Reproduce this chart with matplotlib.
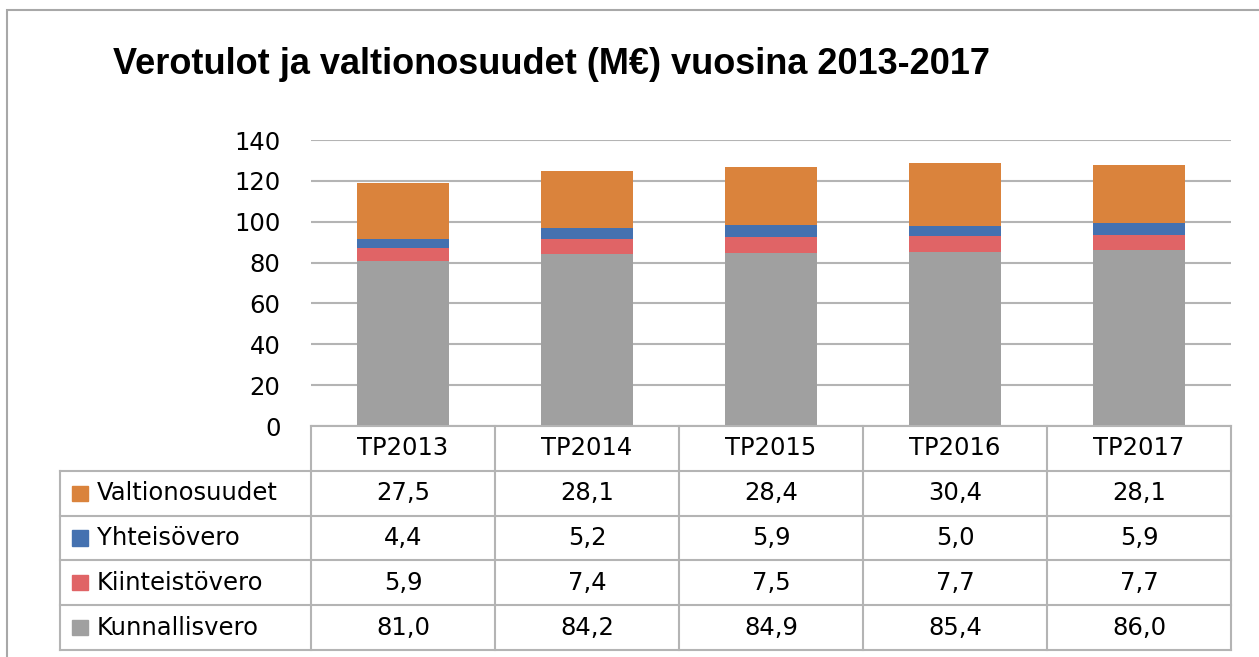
import matplotlib.pyplot as plt
from matplotlib.patches import Rectangle
import numpy as np

# Data
years = ['TP2013', 'TP2014', 'TP2015', 'TP2016', 'TP2017']
kunnallisvero = [81.0, 84.2, 84.9, 85.4, 86.0]
kiinteistovero = [5.9, 7.4, 7.5, 7.7, 7.7]
yhteisovero = [4.4, 5.2, 5.9, 5.0, 5.9]
valtionosuudet = [27.5, 28.1, 28.4, 30.4, 28.1]

# stack order bottom -> top
series_names = ['Kunnallisvero', 'Kiinteistövero', 'Yhteisövero', 'Valtionosuudet']
series_vals = [kunnallisvero, kiinteistovero, yhteisovero, valtionosuudet]
colors = ['#a0a0a0', '#e06466', '#4471b0', '#da833c']

W, H = 1259, 657
fig = plt.figure(figsize=(W / 100, H / 100), dpi=100)
font = 'DejaVu Sans'
fs = 17.5
grid_c = '#b4b4b4'

# outer frame (runs off the right/bottom edge)
fig.patches.append(Rectangle((7 / W, -0.1), 1.2, 1 - 10 / H + 0.1, transform=fig.transFigure,
                             fill=False, edgecolor='#a8a8a8', lw=1.5))

fig.text(113 / W, 1 - 65 / H, 'Verotulot ja valtionosuudet (M€) vuosina 2013-2017',
         fontsize=26, fontweight='bold', family='Liberation Sans', va='center', ha='left')

# bar axes
x0, x1 = 311, 1231
y_top, y_bot = 140, 426
ax = fig.add_axes([x0 / W, 1 - y_bot / H, (x1 - x0) / W, (y_bot - y_top) / H])
x = np.arange(len(years))
bottom = np.zeros(len(years))
for vals, c in zip(series_vals, colors):
    ax.bar(x, vals, width=0.5, bottom=bottom, color=c, zorder=3)
    bottom += np.array(vals)
ax.set_xlim(-0.5, len(years) - 0.5)
ax.set_ylim(0, 140)
ax.set_yticks(range(0, 141, 20))
ax.yaxis.grid(True, color=grid_c, lw=1.5, zorder=0)
ax.set_xticks([])
for s in ax.spines.values():
    s.set_visible(False)
ax.tick_params(axis='y', length=0, pad=22, labelsize=fs)
for lab in ax.get_yticklabels():
    lab.set_family(font)

# data table axes
t_top, t_bot = 426, 650
tax = fig.add_axes([x0 / W, 1 - t_bot / H, (x1 - x0) / W, (t_bot - t_top) / H])
tax.set_xlim(-0.5, len(years) - 0.5)
nrows = len(series_names) + 1
tax.set_ylim(nrows, 0)
tax.axis('off')
cat_px = (x1 - x0) / len(years)
label_left = -0.5 - (x0 - 60) / cat_px

lkw = dict(color=grid_c, lw=1.5, clip_on=False)
tax.plot([-0.5, len(years) - 0.5], [0, 0], **lkw)
for r in range(1, nrows + 1):
    tax.plot([label_left, len(years) - 0.5], [r, r], **lkw)
for k in range(len(years) + 1):
    tax.plot([k - 0.5, k - 0.5], [0, nrows], **lkw)
tax.plot([label_left, label_left], [1, nrows], **lkw)

for i, yr in enumerate(years):
    tax.text(i, 0.5, yr, ha='center', va='center', fontsize=fs, family=font)

# table rows, top -> bottom reverse of stack
for r, idx in enumerate(reversed(range(len(series_names)))):
    row = r + 1.5
    tax.text(label_left + 37 / cat_px, row, series_names[idx], ha='left', va='center',
             fontsize=fs, family=font, clip_on=False)
    tax.add_patch(Rectangle((label_left + 12 / cat_px, row - 0.17), 16 / cat_px, 0.34,
                            color=colors[idx], clip_on=False))
    for i, v in enumerate(series_vals[idx]):
        tax.text(i, row, f'{v:.1f}'.replace('.', ','), ha='center', va='center',
                 fontsize=fs, family=font)

fig.savefig('out.png', dpi=100)
